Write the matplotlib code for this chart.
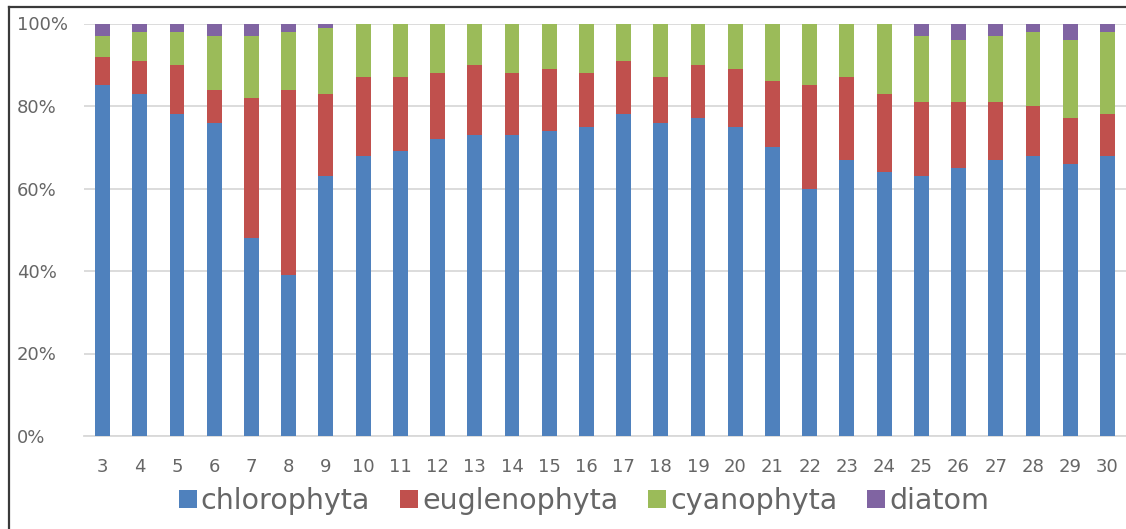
import matplotlib
matplotlib.use("Agg")
import matplotlib.pyplot as plt
from matplotlib.lines import Line2D
import numpy as np

# Sampling days
days = list(range(3, 31))

# Relative abundance of each phylum (%), per sampling day
chlorophyta = [85, 83, 78, 76, 48, 39, 63, 68, 69, 72, 73, 73, 74, 75,
               78, 76, 77, 75, 70, 60, 67, 64, 63, 65, 67, 68, 66, 68]
euglenophyta = [7, 8, 12, 8, 34, 45, 20, 19, 18, 16, 17, 15, 15, 13,
                13, 11, 13, 14, 16, 25, 20, 19, 18, 16, 14, 12, 11, 10]
cyanophyta = [5, 7, 8, 13, 15, 14, 16, 13, 13, 12, 10, 12, 11, 12,
              9, 13, 10, 11, 14, 15, 13, 17, 16, 15, 16, 18, 19, 20]
diatom = [3, 2, 2, 3, 3, 2, 1, 0, 0, 0, 0, 0, 0, 0,
          0, 0, 0, 0, 0, 0, 0, 0, 3, 4, 3, 2, 4, 2]

series_names = ["chlorophyta", "euglenophyta", "cyanophyta", "diatom"]
series_colors = ["#4F81BD", "#C0504D", "#9BBB59", "#8064A2"]

y_ticks = [0, 20, 40, 60, 80, 100]
y_tick_labels = ["0%", "20%", "40%", "60%", "80%", "100%"]

text_color = "#666666"
W, H = 1126, 529

fig = plt.figure(figsize=(W / 100, H / 100), dpi=100)
fig.patch.set_facecolor("white")

ax = fig.add_axes([84 / W, 1 - 436 / H, 1 - 84 / W, (436 - 23.5) / H])

x = np.arange(len(days))
bottom = np.zeros(len(days))
for name, vals, color in zip(series_names,
                             [chlorophyta, euglenophyta, cyanophyta, diatom],
                             series_colors):
    vals = np.array(vals, dtype=float)
    ax.bar(x, vals, width=0.4, bottom=bottom, color=color, label=name,
           linewidth=0, zorder=3)
    bottom += vals

ax.set_xlim(-0.5, len(days) - 0.5)
ax.set_ylim(0, 100)

ax.set_yticks(y_ticks)
ax.set_yticklabels(y_tick_labels)
ax.set_xticks(x)
ax.set_xticklabels([str(d) for d in days])

ax.yaxis.grid(True, color="#D9D9D9", linewidth=1.3, zorder=0)
ax.set_axisbelow(True)
for side in ["top", "right", "left"]:
    ax.spines[side].set_visible(False)
ax.spines["bottom"].set_color("#D9D9D9")
ax.spines["bottom"].set_linewidth(1.3)

ax.tick_params(axis="both", length=0, colors=text_color, labelsize=13)
ax.tick_params(axis="y", pad=48.5)
ax.tick_params(axis="x", pad=16)
for lbl in ax.get_yticklabels():
    lbl.set_horizontalalignment("left")

leg = fig.legend(loc="center", bbox_to_anchor=(584 / W, 1 - 501 / H),
                 ncol=4, frameon=False, fontsize=20.5,
                 handlelength=0.63, handleheight=0.63,
                 handletextpad=0.14, columnspacing=1.05,
                 borderaxespad=0, borderpad=0)
for t in leg.get_texts():
    t.set_color(text_color)

# Outer frame on the left and top edges
fig.add_artist(Line2D([8.5 / W, 8.5 / W], [0, 1 - 7 / H],
                      transform=fig.transFigure, color="#3A3A3A", linewidth=1.6))
fig.add_artist(Line2D([8.5 / W, 1], [1 - 7 / H, 1 - 7 / H],
                      transform=fig.transFigure, color="#3A3A3A", linewidth=1.6))

fig.savefig("out.png", dpi=100, facecolor="white")
